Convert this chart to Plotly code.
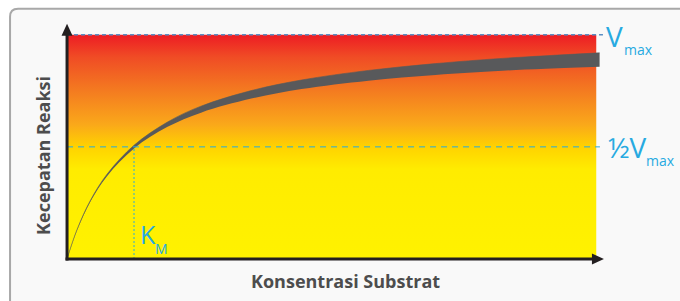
import plotly.graph_objects as go

# ---- data ----
substrate = [0, 0.15, 0.35, 0.6, 1.0, 1.5, 2.0, 2.75, 3.5, 4.5, 5.5, 6.5, 7.95]
velocity = [0, 0.13, 0.259, 0.375, 0.5, 0.6, 0.667, 0.733, 0.778, 0.818, 0.846, 0.867, 0.888]
band_px = [0.6, 0.9, 1.3, 2.0, 3.2, 4.8, 6.5, 8.0, 9.0, 10.2, 11.3, 12.3, 14.0]
vmax = 1.0
km = 1.0
x_end = 7.9

x_title = "Konsentrasi Substrat"
y_title = "Kecepatan Reaksi"

# ---- geometry ----
W, H = 680, 301
X0, Y0, SX, SY = 67, 259, 67, 224
xr = [-0.12, 8.15]
yr = [-0.04, 1.07]
L = X0 + xr[0] * SX
R = W - (X0 + xr[1] * SX)
T = Y0 - yr[1] * SY
B = H - (Y0 - yr[0] * SY)


def dx(px):
    return (px - X0) / SX


def dy(py):
    return (Y0 - py) / SY


def pxp(px):
    return (px - L) / (W - L - R)


def pyp(py):
    return ((H - B) - py) / ((H - B) - T)


BLUE = "#27aae1"
AXC = "#231f20"
GRAY = "#4d4d4d"

fig = go.Figure()

# gradient background
fig.add_trace(go.Scatter(
    x=[0, x_end, x_end, 0, 0], y=[0, 0, vmax, vmax, 0],
    mode="lines", line=dict(width=0), fill="toself",
    fillgradient=dict(type="vertical", colorscale=[
        [0.0, "#fff200"], [0.4, "#ffec00"], [0.5, "#ffd200"],
        [0.6, "#faa81a"], [0.75, "#f47b20"], [0.9, "#f04c25"], [1.0, "#ed1c24"]]),
    hoverinfo="skip", showlegend=False))

lower = [v - w / 2 / SY for v, w in zip(velocity, band_px)]
upper = [v + w / 2 / SY for v, w in zip(velocity, band_px)]
fig.add_trace(go.Scatter(x=substrate, y=lower, mode="lines",
                         line=dict(width=0, shape="spline", color="#58595b"),
                         hoverinfo="skip", showlegend=False))
fig.add_trace(go.Scatter(x=substrate, y=upper, mode="lines", fill="tonexty",
                         fillcolor="#58595b",
                         line=dict(width=0.6, shape="spline", color="#58595b"),
                         hoverinfo="skip", showlegend=False))

shapes = []
# outer frame (rounded)
fx0, fy0, fx1, fy1, r = 10, 9, 700, 320, 8
path = (f"M {pxp(fx0 + r)},{pyp(fy0)} L {pxp(fx1)},{pyp(fy0)} L {pxp(fx1)},{pyp(fy1)} "
        f"L {pxp(fx0)},{pyp(fy1)} L {pxp(fx0)},{pyp(fy0 + r)} "
        f"Q {pxp(fx0)},{pyp(fy0)} {pxp(fx0 + r)},{pyp(fy0)} Z")
shapes.append(dict(type="path", xref="paper", yref="paper", path=path,
                   fillcolor="#f9f9f9", line=dict(color="#a8a8a8", width=2), layer="below"))

# reference lines
shapes.append(dict(type="line", x0=0, x1=dx(603), y0=vmax, y1=vmax,
                   line=dict(color="#5b8ec4", width=1.5, dash="4px,3px"), layer="above"))
shapes.append(dict(type="line", x0=0, x1=dx(600), y0=vmax / 2, y1=vmax / 2,
                   line=dict(color=BLUE, width=1, dash="6px,5px"), layer="above"))
shapes.append(dict(type="line", x0=km, x1=km, y0=0, y1=vmax / 2,
                   line=dict(color=BLUE, width=1, dash="2px,2px"), layer="above"))

# axes
shapes.append(dict(type="line", x0=dx(67), x1=dx(67), y0=dy(260.5), y1=dy(34),
                   line=dict(color=AXC, width=3), layer="above"))
shapes.append(dict(type="line", x0=dx(65.5), x1=dx(595), y0=dy(259), y1=dy(259),
                   line=dict(color=AXC, width=3), layer="above"))
shapes.append(dict(type="path",
                   path=f"M {dx(67)},{dy(24)} L {dx(72.5)},{dy(36)} L {dx(61.5)},{dy(36)} Z",
                   fillcolor=AXC, line=dict(width=0), layer="above"))
shapes.append(dict(type="path",
                   path=f"M {dx(604)},{dy(259)} L {dx(592)},{dy(253.5)} L {dx(592)},{dy(264.5)} Z",
                   fillcolor=AXC, line=dict(width=0), layer="above"))

ann = []


def label(text, px, py, size, xanchor="left", color=BLUE, bold=False, angle=0):
    ann.append(dict(text=text, x=pxp(px), y=pyp(py), xref="paper", yref="paper",
                    showarrow=False, xanchor=xanchor, yanchor="middle", textangle=angle,
                    font=dict(family="Open Sans", size=size, color=color,
                              weight="bold" if bold else "normal")))


label("V", 604, 36, 28)
label("max", 622, 49.5, 14)
label("½V", 606, 147, 28)
label("max", 644, 160.5, 14)
label("K", 138, 234, 25)
label("M", 153, 248.5, 14)
label(x_title, 346, 281, 18, xanchor="center", color=GRAY, bold=True)
label(y_title, 43, 156, 18, xanchor="center", color=GRAY, bold=True, angle=-90)

fig.update_layout(
    width=W, height=H,
    margin=dict(l=L, r=R, t=T, b=B, pad=0),
    paper_bgcolor="#ffffff", plot_bgcolor="rgba(0,0,0,0)",
    xaxis=dict(range=xr, visible=False, fixedrange=True),
    yaxis=dict(range=yr, visible=False, fixedrange=True),
    shapes=shapes, annotations=ann, showlegend=False,
)

fig.write_html("out.html", config={"displayModeBar": False},
               post_script="document.body.style.margin='0px';document.body.style.overflow='hidden';")
